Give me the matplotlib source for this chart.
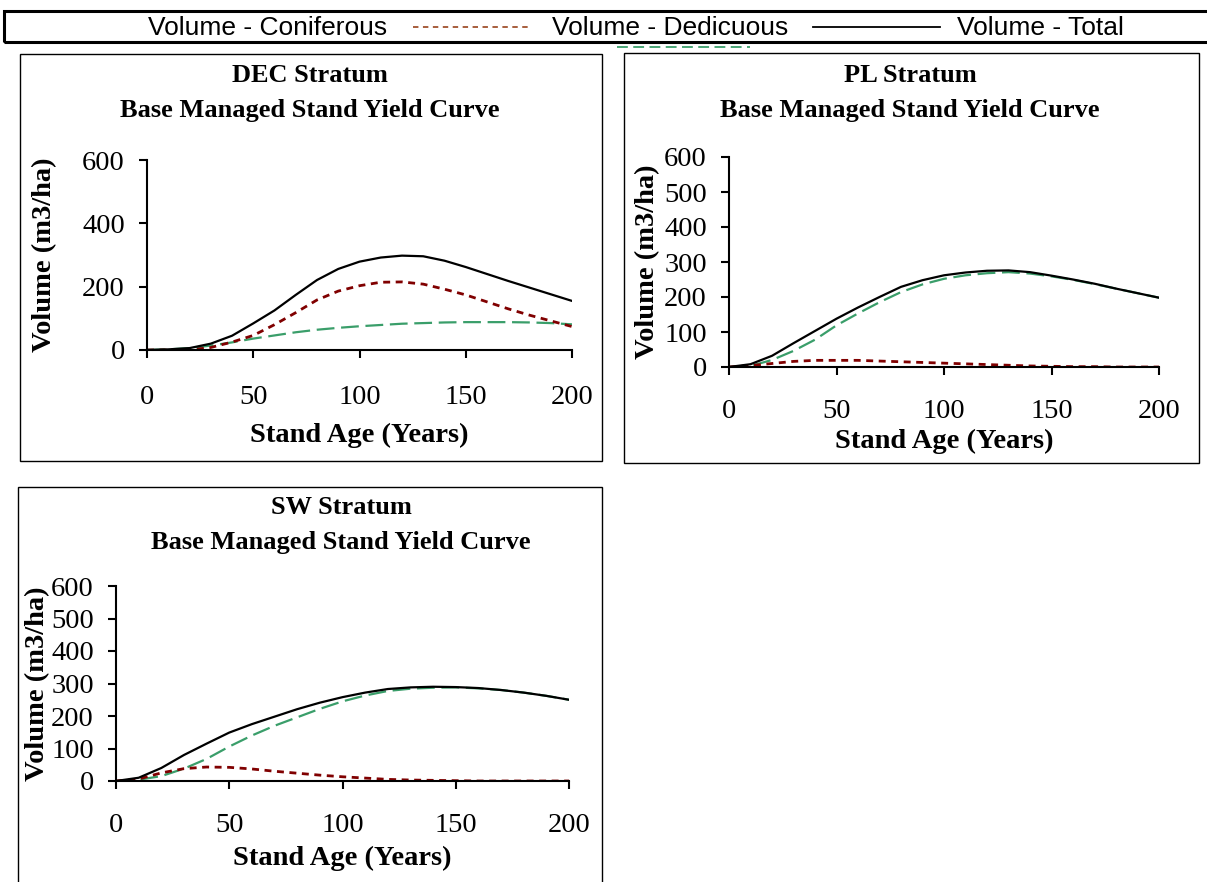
import matplotlib.pyplot as plt
from matplotlib.lines import Line2D
from matplotlib.patches import Rectangle

W, H = 1207, 882

ages = [0, 10, 20, 30, 40, 50, 60, 70, 80, 90, 100,
        110, 120, 130, 140, 150, 160, 170, 180, 190, 200]

# DEC stratum
dec_conif = [0, 2, 6, 14, 24, 36, 46, 56, 64, 70, 75,
             79, 83, 85, 87, 88, 88, 88, 87, 85, 81]
dec_decid = [0, 0, 0, 8, 25, 46, 80, 118, 158, 186, 203,
             214, 215, 208, 192, 174, 152, 130, 110, 92, 74]
dec_total = [0, 2, 6, 20, 45, 84, 125, 174, 221, 256, 279,
             292, 298, 296, 282, 262, 240, 218, 197, 176, 155]

# PL stratum
pl_conif = [0, 3, 20, 46, 78, 119, 153, 185, 214, 236, 252,
            262, 268, 271, 267, 259, 249, 237, 224, 211, 198]
pl_decid = [0, 4, 10, 16, 19, 19, 19, 17, 15, 13, 11,
            9, 7, 5, 3, 2, 1, 1, 0, 0, 0]
pl_total = [0, 8, 32, 68, 103, 138, 170, 200, 229, 248, 262,
            270, 275, 276, 271, 261, 250, 238, 224, 211, 198]

# SW stratum
sw_conif = [0, 4, 15, 38, 68, 106, 140, 170, 196, 222, 245,
            263, 277, 284, 287, 288, 285, 280, 272, 262, 250]
sw_decid = [0, 6, 25, 38, 43, 42, 37, 30, 24, 18, 13,
            9, 5, 3, 2, 1, 0, 0, 0, 0, 0]
sw_total = [0, 10, 40, 80, 115, 149, 175, 198, 221, 241, 258,
            272, 283, 288, 290, 289, 286, 280, 272, 262, 250]

strata = ['DEC', 'PL', 'SW']
x_ticks = [0, 50, 100, 150, 200]
series_labels = ['Volume - Coniferous', 'Volume - Dedicuous', 'Volume - Total']

GREEN = '#3a9e6a'
RED = '#800000'

serif = 'Liberation Serif'
sans = 'Liberation Sans'
fs_title = 19
fs_axis = 20.5
fs_leg = 19


def fx(px):
    return px / W


def fy(py):
    return 1 - py / H


fig = plt.figure(figsize=(W / 100, H / 100), dpi=100)

# panel boxes (pixels: x0, y0, x1, y1)
boxes = [(20, 54, 602, 461), (624, 53, 1199, 463), (18, 487, 602, 900)]
for x0, y0, x1, y1 in boxes:
    fig.patches.append(Rectangle((fx(x0), fy(y1)), fx(x1 - x0), (y1 - y0) / H,
                                 transform=fig.transFigure, fill=False,
                                 edgecolor='black', lw=1.0))

# axes rect in pixels: left, right, top(600), bottom(0)
ax_px = [(147, 572, 160, 350), (729, 1159, 157, 367), (116, 569, 586, 781)]
yticks_list = [[0, 200, 400, 600], list(range(0, 601, 100)), list(range(0, 601, 100))]
title_pos = [(310, 76, 110), (910, 76, 110), (341, 508, 542)]
ylab_x = [45, 648, 38]
xlab_y = [435, 441, 858]
xpad = [19, 17, 17]

data = [(dec_conif, dec_decid, dec_total),
        (pl_conif, pl_decid, pl_total),
        (sw_conif, sw_decid, sw_total)]

for i, name in enumerate(strata):
    l, r, t, b = ax_px[i]
    ax = fig.add_axes([fx(l), fy(b), (r - l) / W, (b - t) / H])
    conif, decid, total = data[i]
    ax.plot(ages, conif, color=GREEN, lw=1.6, ls=(0, (8, 3)))
    ax.plot(ages, decid, color=RED, lw=2.0, ls=(0, (2.5, 2)))
    ax.plot(ages, total, color='black', lw=1.6, solid_joinstyle='round')
    ax.set_xlim(0, 200)
    ax.set_ylim(0, 600)
    ax.set_xticks(x_ticks)
    ax.set_yticks(yticks_list[i])
    for s in ['top', 'right']:
        ax.spines[s].set_visible(False)
    for s in ['left', 'bottom']:
        ax.spines[s].set_linewidth(1.5)
    ax.tick_params(axis='x', direction='out', length=6, width=1.5, pad=xpad[i])
    ax.tick_params(axis='y', direction='out', length=6, width=1.5, pad=10)
    for lab in ax.get_xticklabels() + ax.get_yticklabels():
        lab.set_fontfamily(serif)
        lab.set_fontsize(fs_axis)
    ax.set_xlabel('Stand Age (Years)', fontfamily=serif, fontsize=fs_axis,
                  fontweight='bold', va='center')
    ax.xaxis.set_label_coords(0.5, (b - xlab_y[i]) / (b - t))
    ax.set_ylabel('Volume (m3/ha)', fontfamily=serif, fontsize=fs_axis,
                  fontweight='bold', va='center')
    ax.yaxis.set_label_coords((ylab_x[i] - l) / (r - l), 0.5)

    cx, y1, y2 = title_pos[i]
    fig.text(fx(cx), fy(y1), name + ' Stratum', ha='center', va='center',
             fontfamily=serif, fontsize=fs_title, fontweight='bold')
    fig.text(fx(cx), fy(y2), 'Base Managed Stand Yield Curve', ha='center',
             va='center', fontfamily=serif, fontsize=fs_title, fontweight='bold')

# legend box across the top
fig.patches.append(Rectangle((fx(4), fy(42)), fx(1215 - 4), 31 / H,
                             transform=fig.transFigure, fill=False,
                             edgecolor='black', lw=2.2))
fig.text(fx(268), fy(28), series_labels[0], ha='center', va='center',
         fontfamily=sans, fontsize=fs_leg)
fig.text(fx(670), fy(28), series_labels[1], ha='center', va='center',
         fontfamily=sans, fontsize=fs_leg)
fig.text(fx(1040), fy(28), series_labels[2], ha='center', va='center',
         fontfamily=sans, fontsize=fs_leg)
fig.lines.append(Line2D([fx(413), fx(530)], [fy(27), fy(27)], transform=fig.transFigure,
                        color='#a0522d', lw=1.3, ls=(0, (3, 2.5))))
fig.lines.append(Line2D([fx(813), fx(940)], [fy(27), fy(27)], transform=fig.transFigure,
                        color='black', lw=1.3))
fig.lines.append(Line2D([fx(617), fx(750)], [fy(47), fy(47)], transform=fig.transFigure,
                        color=GREEN, lw=1.3, ls=(0, (6, 3))))

fig.savefig('out.png', dpi=100)
